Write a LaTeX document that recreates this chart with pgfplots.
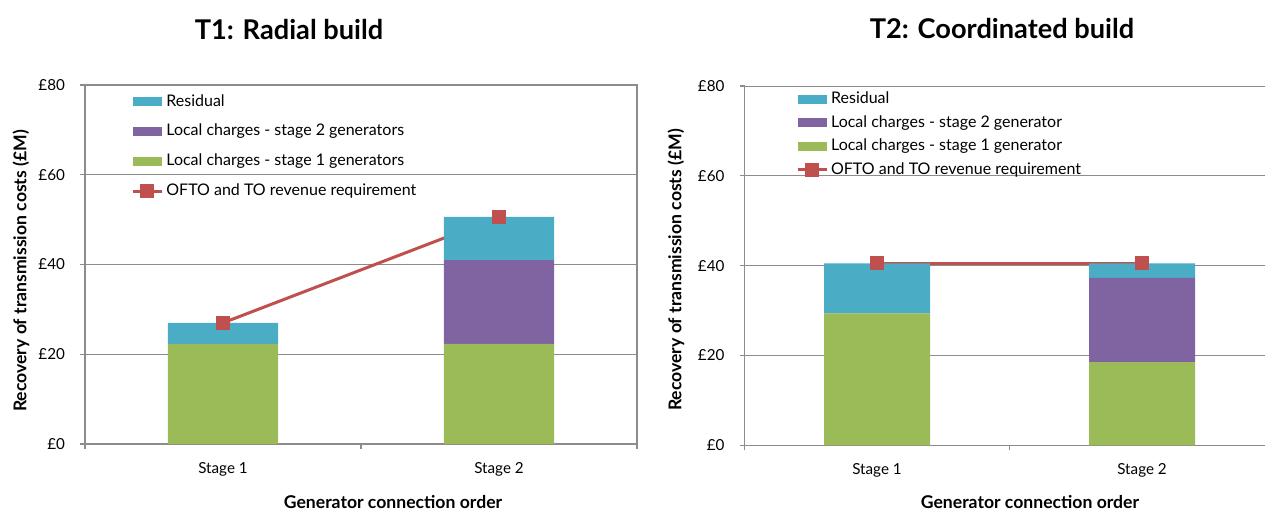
\documentclass[border=0pt]{standalone}
\usepackage{fontspec}
\setmainfont{Lato}
\usepackage{pgfplots}
\usepackage{pgfplotstable}
\pgfplotsset{compat=1.18}

\definecolor{locone}{HTML}{9BBB59}
\definecolor{loctwo}{HTML}{8064A2}
\definecolor{resid}{HTML}{4BACC6}
\definecolor{revreq}{HTML}{C0504D}
\definecolor{gridgray}{HTML}{8C8C8C}

% Recovery of transmission costs (GBP million) per stage
\pgfplotstableread{
x green purple resid req
1 22.3 0.0  4.7  27.0
2 22.3 18.7 9.6  50.6
}\radial
\pgfplotstableread{
x green purple resid req
1 29.4 0.0  11.1 40.5
2 18.5 18.8 3.2  40.5
}\coord

\newcommand{\tickfont}{\fontsize{7.6}{9}\selectfont}
\newcommand{\legfont}{\fontsize{8}{9.5}\selectfont}
\newcommand{\labfont}{\fontsize{8.8}{10}\selectfont\bfseries}
\newcommand{\titfont}{\fontsize{13.6}{15}\selectfont\bfseries}

\pgfplotsset{
  panel/.style={
    scale only axis,
    stack plots=y,
    ymin=0, ymax=80,
    ytick={0,20,40,60,80},
    yticklabels={\mbox{£0},\mbox{£20},\mbox{£40},\mbox{£60},\mbox{£80}},
    xmin=0.5,
    xtick={1,2}, xticklabels={Stage 1,Stage 2},
    major x tick style={draw=none},
    tick align=outside, tick pos=left,
    major tick length=2.5pt, minor tick length=2.5pt,
    tick style={gridgray, line width=0.6pt},
    ymajorgrids, grid style={gridgray, line width=0.5pt},
    axis line style={gridgray, line width=0.6pt},
    ticklabel style={font=\tickfont, text=black},
    yticklabel style={xshift=-4pt},
    xticklabel style={yshift=-3pt},
    label style={font=\labfont},
    title style={font=\titfont},
    every axis title shift=0pt,
    legend cell align=left,
    legend style={draw=none, fill=none, font=\legfont, anchor=north west,
      inner sep=0pt, column sep=1.5pt,
      nodes={inner sep=0pt}},
  },
  stackbar/.style={ybar, bar width=0.4, bar shift=0pt, draw=none, fill=#1},
  patch/.style={fill=#1, draw=none,
    legend image code/.code={\fill[##1, draw=none] (0pt,-2.3pt) rectangle (14.5pt,2.3pt);}},
  reqline/.style={revreq, line width=1.5pt, mark=square*, mark size=2.75pt,
    legend image code/.code={%
    \draw[##1, mark repeat=2, mark phase=2] plot coordinates {(0pt,0pt) (7.25pt,0pt) (14.5pt,0pt)};}},
}

\begin{document}
\begin{tikzpicture}
\useasboundingbox (0,0) rectangle (632.5pt,255pt);

% T1: radial build
\begin{axis}[panel,
  at={(42.5pt,33pt)}, anchor=south west,
  width=276pt, height=179.5pt,
  xmax=2.5, minor xtick={0.5,1.5,2.5},
  title={T1: Radial build},
  title style={at={(axis description cs:0.3696,1.156)}, anchor=center},
  xlabel={Generator connection order},
  xlabel style={at={(axis description cs:0.558,-0.1616)}, anchor=center},
  ylabel={Recovery of transmission costs (£M)},
  ylabel style={at={(axis description cs:-0.116,0.482)}, anchor=center, rotate=0},
  legend style={at={(axis description cs:0.0833,0.975)}, row sep=7.5pt},
]
\addlegendimage{patch=resid}
\addlegendentry{Residual}
\addlegendimage{patch=loctwo}
\addlegendentry{Local charges - stage 2 generators}
\addlegendimage{patch=locone}
\addlegendentry{Local charges - stage 1 generators}
\addlegendimage{reqline}
\addlegendentry{OFTO and TO revenue requirement}

\addplot[stackbar=locone] table[x=x, y=green] {\radial};
\addplot[stackbar=loctwo] table[x=x, y=purple] {\radial};
\addplot[stackbar=resid] table[x=x, y=resid] {\radial};
\addplot[sharp plot, stack plots=false, reqline] table[x=x, y=req] {\radial};
\end{axis}

% T2: coordinated build
\begin{axis}[panel,
  at={(372.25pt,32.35pt)}, anchor=south west,
  width=260.25pt, height=179.65pt,
  xmax=2.464, minor xtick={0.5,1.5},
  axis x line*=bottom, axis y line*=left,
  title={T2: Coordinated build},
  title style={at={(axis description cs:0.4947,1.1587)}, anchor=center},
  xlabel={Generator connection order},
  xlabel style={at={(axis description cs:0.5485,-0.158)}, anchor=center},
  ylabel={Recovery of transmission costs (£M)},
  ylabel style={at={(axis description cs:-0.1316,0.488)}, anchor=center, rotate=0},
  legend style={at={(axis description cs:0.0984,0.985)}, row sep=4.35pt},
]
\addlegendimage{patch=resid}
\addlegendentry{Residual}
\addlegendimage{patch=loctwo}
\addlegendentry{Local charges - stage 2 generator}
\addlegendimage{patch=locone}
\addlegendentry{Local charges - stage 1 generator}
\addlegendimage{reqline}
\addlegendentry{OFTO and TO revenue requirement}

\addplot[stackbar=locone] table[x=x, y=green] {\coord};
\addplot[stackbar=loctwo] table[x=x, y=purple] {\coord};
\addplot[stackbar=resid] table[x=x, y=resid] {\coord};
\addplot[sharp plot, stack plots=false, reqline] table[x=x, y=req] {\coord};
\end{axis}
\end{tikzpicture}
\end{document}
